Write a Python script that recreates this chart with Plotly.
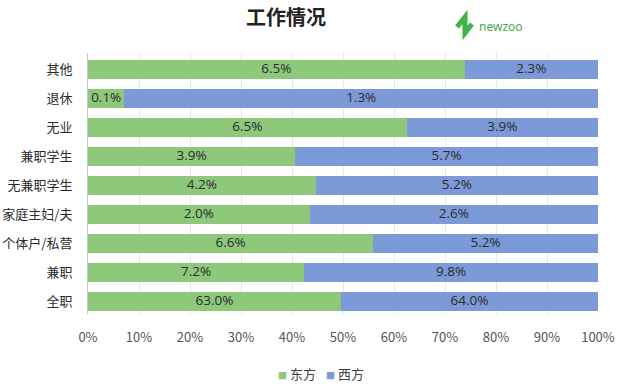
import plotly.graph_objects as go

categories = ["全职", "兼职", "个体户/私营", "家庭主妇/夫", "无兼职学生", "兼职学生", "无业", "退休", "其他"]
east = [63.0, 7.2, 6.6, 2.0, 4.2, 3.9, 6.5, 0.1, 6.5]
west = [64.0, 9.8, 5.2, 2.6, 5.2, 5.7, 3.9, 1.3, 2.3]
tick_vals = [0, 10, 20, 30, 40, 50, 60, 70, 80, 90, 100]
tick_text = [f"{v}%" for v in tick_vals]

GREEN = "#8DC87B"
BLUE = "#7B9AD7"
font_family = "Noto Sans CJK SC, Noto Sans, sans-serif"

# plot area in pixels (for decorations only)
L, R, T, B = 88, 598, 53, 314
def px(x):
    return (x - L) / (R - L)
def py(y):
    return (B - y) / (B - T)

# shares used for bar lengths (100% stacked) and label positions
east_share = [e / (e + w) * 100 for e, w in zip(east, west)]
east_mid = [s / 2 for s in east_share]
west_mid = [s + (100 - s) / 2 for s in east_share]

fig = go.Figure()
fig.add_trace(go.Bar(
    y=categories, x=east, name="东方", orientation="h",
    marker=dict(color=GREEN, line=dict(width=0)), showlegend=False,
    hoverinfo="skip",
))
fig.add_trace(go.Bar(
    y=categories, x=west, name="西方", orientation="h",
    marker=dict(color=BLUE, line=dict(width=0)), showlegend=False,
    hoverinfo="skip",
))
# value labels
fig.add_trace(go.Scatter(
    x=east_mid + west_mid, y=categories + categories, mode="text",
    text=[f"{v:.1f}%" for v in east] + [f"{v:.1f}%" for v in west],
    textposition="middle center",
    textfont=dict(size=13.5, color="#2B2B2B", family="Open Sans, Noto Sans, sans-serif"),
    showlegend=False, hoverinfo="skip",
))

fig.update_layout(
    barmode="stack", barnorm="percent", bargap=0.35,
    width=622, height=384,
    margin=dict(l=L, r=622 - R, t=T, b=384 - B),
    paper_bgcolor="white", plot_bgcolor="white",
    font=dict(family=font_family, size=13, color="#404040"),
    title=dict(text="<b>工作情况</b>", x=286 / 622, xanchor="center", y=1 - 18 / 384, yanchor="middle",
               font=dict(size=20, color="#222222", family=font_family)),
    xaxis=dict(range=[0, 100], tickvals=tick_vals, ticktext=tick_text,
               showgrid=True, gridcolor="#E8E8E8", gridwidth=1, zeroline=False,
               ticklabelstandoff=14, automargin=False,
               tickfont=dict(size=13, color="#555555"), fixedrange=True),
    yaxis=dict(type="category", categoryorder="array", categoryarray=categories,
               range=[-0.42, 8.57],
               showline=True, linecolor="#C8C8C8", linewidth=1,
               ticks="", ticklabelstandoff=12, automargin=False,
               tickfont=dict(size=13, color="#2B2B2B")),
    showlegend=False,
)

# legend drawn as annotations (small squares + labels)
for name, col, xpos in [("东方", GREEN, 276), ("西方", BLUE, 324)]:
    fig.add_annotation(
        text=f"<span style='color:{col};font-size:9px'>■</span> {name}",
        xref="paper", yref="paper", x=px(xpos), y=py(373),
        xanchor="left", yanchor="middle", showarrow=False,
        font=dict(size=13, color="#404040"),
    )

# newzoo logo
fig.add_annotation(text="newzoo", xref="paper", yref="paper", x=px(477), y=py(26),
                   xanchor="left", yanchor="middle", showarrow=False,
                   font=dict(size=12, color="#49A84A", family="Noto Sans, sans-serif"))
logo_path = (f"M {px(457)} {py(27)} L {px(465)} {py(17)} "
             f"L {px(465)} {py(33)} L {px(472)} {py(24)}")
fig.add_shape(type="path", path=logo_path, xref="paper", yref="paper",
              line=dict(color="#3DB54A", width=5), fillcolor="rgba(0,0,0,0)")

fig.write_html("out.html", post_script="document.body.style.margin='0';",
               config={"displayModeBar": False})
